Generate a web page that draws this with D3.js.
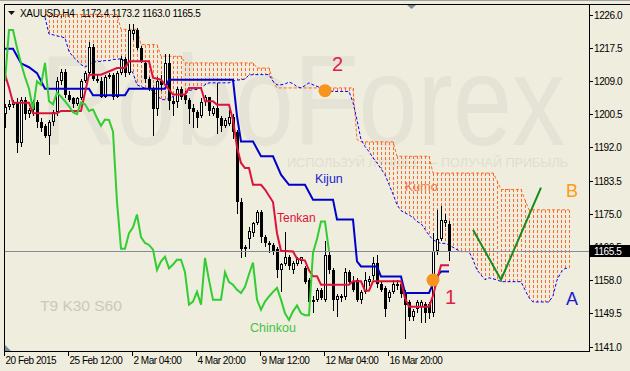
<!DOCTYPE html>
<html><head><meta charset="utf-8">
<script src="https://cdn.jsdelivr.net/npm/d3@7"></script>
<style>html,body{margin:0;padding:0;background:#efeddd;} svg{display:block;}</style>
</head><body>
<svg id="c" width="630" height="371"></svg>
<script>
// ---------- DATA ----------
const symbol = "XAUUSD,H4";
const titleValues = "1172.4 1173.2 1163.0 1165.5";
const dateLabels = ["20 Feb 2015","25 Feb 12:00","2 Mar 04:00","4 Mar 20:00","9 Mar 12:00","12 Mar 04:00","16 Mar 20:00"];
const dateLabelBars = [0,16,32,48,64,80,96];
const priceTicks = [1141.0,1149.5,1158.0,1166.5,1175.0,1183.5,1192.0,1200.5,1209.0,1217.5,1226.0];
const lastPrice = 1165.5;

const opens = [1200.5,1202.2,1202.8,1203.6,1193.2,1204,1200.5,1201.5,1203.5,1198.5,
1197.5,1195,1198.5,1201,1209,1211.3,1205.5,1204.5,1203,1204.5,
1209,1211,1217.8,1209.5,1209,1205,1210,1210.5,1205,1211,
1214.5,1211,1221,1222,1217.5,1213.5,1209.5,1207,1201.7,1209,
1208,1213.6,1203.8,1203.5,1207,1205.5,1204.2,1202,1201,1200,
1203.5,1204.8,1200.5,1202,1199.5,1197.5,1198,1199.8,1196,1178,
1166,1168.5,1170,1172.5,1175.5,1169,1167.5,1167,1166,1160.5,
1162,1164,1160.5,1162,1163,1161,1158,1152.5,1153,1155.5,
1153,1164.5,1160.5,1153,1153.5,1153.8,1160,1157.5,1158,1153,
1155,1157.5,1159,1162.5,1157,1156,1153.5,1155,1157,1157,
1155,1152.5,1148.5,1150.5,1151,1152,1152,1149.5,1165.5,1168.5,
1172.5,1172.4];
const highs = [1203,1204,1204,1204.7,1205,1205,1202,1204,1204,1199.5,
1198,1199,1201.5,1210,1212,1212,1206.5,1205,1205,1209.5,
1211.5,1219,1218.5,1210.5,1210,1210.5,1211,1211,1211.5,1215.5,
1215,1223.5,1223.5,1222.5,1218,1214,1210,1207.5,1210,1210.5,
1216,1216,1205,1207.5,1207.5,1206.5,1204.5,1203,1201.5,1204.5,
1205.5,1205,1202.5,1208.5,1200,1199.5,1201.5,1200.5,1196.5,1179,
1167,1171.5,1173,1176,1176,1169.5,1168,1167.5,1166.5,1162.5,
1170.4,1164.5,1163,1164,1164,1161.5,1158.5,1154,1156,1156,
1168,1165.5,1161,1154.5,1154.5,1161,1160.5,1159,1158.5,1155.5,
1160,1159,1164,1164.5,1157.5,1156.5,1155.5,1158,1158,1157.5,
1155.5,1153,1150.5,1153,1153,1152.5,1152.5,1170,1176,1177,
1175,1173.2];
const lows = [1197,1201.5,1202,1190.6,1192,1199,1199.5,1200,1197,1196,
1194.5,1190,1197.5,1200,1208,1204.5,1203.5,1202,1202.5,1204,
1208.5,1210.5,1209,1208.5,1204.5,1204.5,1209.5,1204,1204.5,1210.5,
1210,1210.5,1219.5,1217,1213.5,1208.5,1206.5,1195,1200,1206.5,
1207,1201.5,1200,1202,1204,1203,1198,1197,1197,1199.5,
1202.5,1200,1200,1195.5,1196,1197,1197.5,1194,1175,1163.7,
1164,1166,1169,1172,1167.5,1166.5,1165,1164.5,1158.5,1155,
1161.5,1160.5,1159.5,1161.5,1162,1157,1151,1149.6,1152.5,1153,
1152.5,1159.5,1150,1148.5,1152.5,1153,1157,1155,1152.5,1152,
1154.5,1156.5,1158,1156,1155,1148.5,1152.5,1154.5,1155.5,1153.5,
1143,1147.5,1147.5,1149.5,1147,1147,1148,1148.5,1164.5,1168,
1171.5,1163.0];
const closes = [1202.2,1203,1203.6,1193.2,1204,1200.5,1201.5,1203.5,1198.5,1197,
1195,1198.5,1201,1209,1211.3,1205.5,1204,1203,1204.5,1209,
1211,1217.8,1209.5,1209,1205,1210,1210.5,1205,1211,1214.5,
1211,1222,1222,1217.5,1214,1209.5,1207,1201.7,1209,1208,
1213.6,1203.8,1203,1207,1205,1204,1201.7,1201,1199.5,1203.5,
1204.8,1201.3,1202,1199.5,1197.5,1199.1,1199.8,1196,1178,1166,
1166.5,1170.5,1172.5,1175.5,1169,1167.5,1167,1165.5,1160.5,1162,
1164,1161.5,1162.5,1163.5,1163.8,1157.5,1152.5,1153,1155.5,1153.5,
1164.5,1160.5,1153,1154,1154,1160,1157.5,1155.5,1153,1155,
1158,1158.2,1162.5,1157,1155.5,1150.5,1155,1157,1156.5,1154.5,
1151.5,1148.5,1150,1152.5,1152.5,1149.5,1149.5,1165.5,1168.5,1173.5,
1173.5,1165.5];

// Tenkan-sen (bar index, price)
const tenkan = [[0,1210.6],[1,1207.3],[2,1203.4],[6,1203.4],[7,1200.7],[13,1200.7],[14,1201.3],[19,1201.3],[20,1206],[21,1210.6],[24,1210.6],[28,1212.3],[30,1212.3],[31,1214],[36,1214],[37,1209.8],[39,1209.3],[42,1205.5],[45,1205.5],[46,1207.2],[49,1207.2],[50,1203.8],[52,1203.8],[53,1202.9],[56,1202.9],[57,1199],[58,1192],[59,1188],[60,1186.7],[61,1186.7],[62,1182.4],[64,1182.4],[65,1181.2],[67,1178],[68,1170],[69,1165.5],[72,1165.3],[73,1163.5],[75,1163],[76,1160.5],[77,1159],[78,1159],[79,1156.8],[86,1156.8],[87,1157.7],[89,1157.7],[90,1155.3],[91,1155.3],[92,1157.7],[99,1157.7],[100,1153.4],[101,1151.2],[106,1151.2],[107,1154],[108,1158],[109,1161.8],[111,1161.8]];
// Kijun-sen (bar index, price)
const kijun = [[0,1217.2],[2,1217.2],[4,1213.5],[6,1212.5],[8,1211],[10,1207],[21,1207],[22,1205.3],[30,1205.3],[31,1207],[40,1207],[41,1209.3],[57,1209.3],[58,1200],[59,1193.5],[62,1193.5],[64,1189.7],[67,1189.7],[69,1185],[71,1182.4],[75,1182.4],[77,1178.6],[82,1178.6],[83,1173.5],[87,1173.5],[88,1162.8],[89,1161.5],[93,1161.5],[94,1158.9],[99,1158.9],[100,1154.7],[106,1154.7],[107,1157],[108,1159],[109,1160.2],[111,1160.2]];
// Chikou span, bars 0..81
const chinkou = [1209,1222,1222,1217.5,1213.5,1210,1207,1201.7,1208.9,1208,
1213.6,1203.8,1203,1206,1205,1203.8,1202.5,1201,1200.5,1203.5,
1203,1201.3,1201.7,1199.5,1197.5,1199.1,1199,1196,1178,1166,
1166,1170,1171.5,1174.8,1169,1167.5,1167,1165.8,1160.6,1162.8,
1164,1161,1162,1163.2,1163.2,1160,1151.7,1152.5,1155,1151.7,
1163.7,1158,1153,1153,1153,1160,1157.5,1156.8,1155.5,1154.7,
1156.3,1159.5,1162.5,1153,1150.4,1152.5,1153.8,1155,1156,1153,
1149.5,1147.8,1150,1151.5,1149.5,1149,1149,1165,1168.5,1173,
1173,1165.5];
// Senkou spans, bars 10..141
const senkouStart = 10;
const senkouA = [1225.3,1221,1220.8,1220.5,1220.3,1220,1216.5,1215.2,1214.2,1213.2,
1212.5,1213.2,1213.7,1214,1214,1214.2,1214.2,1214.5,1214.5,1214.7,
1214,1212.5,1211,1208,1207.5,1207.2,1207,1206.3,1205.5,1204.2,
1204.2,1204.5,1205,1205.5,1205.5,1205.5,1206.5,1206.8,1206.8,1207.2,
1208,1208.5,1208.5,1208.5,1208.5,1208.5,1208.5,1209,1209.2,1209.3,
1209.5,1210.5,1210.6,1210.6,1210.6,1210.6,1210.6,1208.9,1208,1208,
1208.2,1208.7,1208.3,1207.5,1207.2,1207.8,1208.5,1208,1207.6,1207.2,
1206.8,1206.5,1206.3,1206.3,1206.3,1206.3,1206.3,1203.5,1199,1194,
1192.2,1190.9,1189.3,1188,1186.5,1185,1182.5,1180,1177.3,1175.8,
1175.2,1174.7,1174,1173,1172.5,1171,1169.5,1168.3,1167.8,1167.4,
1167.4,1167,1166.4,1165.8,1165.3,1165.3,1165.3,1163.2,1160.6,1159.3,
1158.1,1158.6,1158.3,1158.1,1157.6,1157.6,1157.6,1157.6,1157.6,1157.6,
1155.5,1153.5,1152.4,1152.4,1152.4,1152.4,1152.4,1154,1158,1160,
1161,1161];
const senkouB = [1226,1226,1226,1226,1226,1226,1226,1226,1226,1226,
1226,1226,1226,1226,1226,1226,1226,1226,1226,1222.2,
1222.2,1222.2,1222.2,1222.2,1218.3,1218.3,1218.3,1218.3,1218.3,1215.3,
1215.3,1215.3,1215.3,1215.3,1215.3,1213.6,1213.6,1213.6,1213.6,1213.6,
1213.6,1213.6,1213.6,1213.6,1213.6,1213.6,1213.6,1213.6,1213.6,1213.6,
1213.6,1213.6,1213.6,1212.3,1212.3,1212.3,1212.3,1209,1207.2,1207.2,
1207.2,1207.2,1207.2,1207.2,1207.2,1207.2,1207.2,1207.2,1207.2,1207.2,
1207.2,1207.2,1207.2,1207.2,1207.2,1207.2,1207.2,1207.2,1194,1193.4,
1193.4,1193.4,1193.4,1193.4,1193.4,1193.4,1193.4,1193.4,1189.7,1189.7,
1189.7,1189.7,1189.7,1189.7,1189.7,1189.7,1189.7,1185.4,1185.4,1185.4,
1185.4,1185.4,1185.4,1185.4,1185.4,1185.4,1185.4,1185.4,1185.4,1185.4,
1185.4,1185.4,1185.4,1183.5,1181.2,1181.2,1181.2,1181.2,1181.2,1181.2,
1178.5,1176,1176,1176,1176,1176,1176,1176,1176,1176,
1176,1176];
// Forecast line (bar index, price)
const forecast = [[117,1170.9],[124,1158.1],[134,1181.7]];
// Signal points
const signalBars = [80,107];
const signalPrices = [1206.5,1158];
const signalLabels = ["2","1"];

// ---------- DRAW ----------
const svg = d3.select("#c");
const W = 630, H = 371;
const font = "'Liberation Sans', Arial, sans-serif";
const x = d3.scaleLinear().domain([0,141]).range([5,569]);
const y = d3.scaleLinear().domain([1141,1226]).range([346.5,14.5]);
const px = i => Math.round(x(i));

svg.append("rect").attr("width",W).attr("height",H).attr("fill","#efeddd");

const defs = svg.append("defs");
defs.append("clipPath").attr("id","plot").append("rect").attr("x",5).attr("y",5).attr("width",584).attr("height",346);

// watermark (background layer)
const wm = svg.append("g");
wm.append("text").attr("x",40).attr("y",145).attr("font-family",font).attr("font-size",128)
  .attr("textLength",525).attr("lengthAdjust","spacingAndGlyphs").attr("fill","#e5e3d5").text("RoboForex");
wm.append("text").attr("x",287).attr("y",167).attr("font-family",font).attr("font-size",13)
  .attr("textLength",281).attr("lengthAdjust","spacingAndGlyphs").attr("fill","#e0decf").text("ИСПОЛЬЗУЙ ЛУЧШЕЕ — ПОЛУЧАЙ ПРИБЫЛЬ");
wm.append("text").attr("x",40).attr("y",311).attr("font-family",font).attr("font-size",15.5)
  .attr("fill","#ccc8ba").text("T9 K30 S60");

const g = svg.append("g").attr("clip-path","url(#plot)");

// cloud hatch
const cloudColor = "#ff6a2a";
const spanIdx = d3.range(senkouA.length);
g.append("g").selectAll("line")
  .data(spanIdx.filter(k => senkouB[k] > senkouA[k])).join("line")
  .attr("x1",k=>px(k+senkouStart)+0.5).attr("x2",k=>px(k+senkouStart)+0.5)
  .attr("y1",k=>Math.round(y(senkouB[k]))).attr("y2",k=>Math.round(y(senkouA[k])))
  .attr("stroke",cloudColor).attr("stroke-width",1).attr("stroke-dasharray","3,2");

const spanLine = arr => d3.line().x((d,k)=>x(k+senkouStart)).y(d=>y(d))(arr);
g.append("path").attr("d",spanLine(senkouB)).attr("fill","none").attr("stroke",cloudColor)
  .attr("stroke-width",1).attr("stroke-dasharray","3,2");
g.append("path").attr("d",spanLine(senkouA)).attr("fill","none").attr("stroke","#0000ff")
  .attr("stroke-width",1).attr("stroke-dasharray","3,2");

// candles
const bars = d3.range(closes.length);
const cg = g.append("g").attr("shape-rendering","crispEdges");
cg.selectAll("line").data(bars).join("line")
  .attr("x1",i=>px(i)+0.5).attr("x2",i=>px(i)+0.5)
  .attr("y1",i=>Math.round(y(highs[i]))).attr("y2",i=>Math.round(y(lows[i])))
  .attr("stroke","#000").attr("stroke-width",1);
cg.selectAll("rect.bear").data(bars.filter(i=>closes[i]<opens[i])).join("rect").attr("class","bear")
  .attr("x",i=>px(i)-1).attr("width",3)
  .attr("y",i=>Math.round(y(opens[i]))).attr("height",i=>Math.max(1,Math.round(y(closes[i]))-Math.round(y(opens[i]))))
  .attr("fill","#000");
cg.selectAll("rect.bull").data(bars.filter(i=>closes[i]>=opens[i])).join("rect").attr("class","bull")
  .attr("x",i=>px(i)-0.5).attr("width",2)
  .attr("y",i=>Math.round(y(closes[i]))+0.5).attr("height",i=>Math.max(0,Math.round(y(opens[i]))-Math.round(y(closes[i]))-1))
  .attr("fill","#fff").attr("stroke","#000").attr("stroke-width",1);

// last price line
g.append("line").attr("x1",5).attr("x2",589).attr("y1",Math.round(y(lastPrice))+0.5).attr("y2",Math.round(y(lastPrice))+0.5)
  .attr("stroke","#838c98").attr("stroke-width",1);

// indicator lines
const ptLine = d3.line().x(d=>x(d[0])).y(d=>y(d[1]));
g.append("path").attr("d",ptLine(kijun)).attr("fill","none").attr("stroke","#0000cd").attr("stroke-width",2);
g.append("path").attr("d",ptLine(tenkan)).attr("fill","none").attr("stroke","#dc143c").attr("stroke-width",2);
g.append("path").attr("d",d3.line().x((d,i)=>x(i)).y(d=>y(d))(chinkou)).attr("fill","none").attr("stroke","#32cd32").attr("stroke-width",2);
g.append("path").attr("d",ptLine(forecast)).attr("fill","none").attr("stroke","#1a8a1a").attr("stroke-width",2);

// signal markers
g.selectAll("circle.sig").data(signalBars).join("circle").attr("class","sig")
  .attr("cx",(d,k)=>x(d)).attr("cy",(d,k)=>y(signalPrices[k])).attr("r",6.5).attr("fill","#f7941d");

// labels
const lab = (t,xx,yy,size,color) => g.append("text").attr("x",xx).attr("y",yy).attr("font-family",font)
  .attr("font-size",size).attr("fill",color).text(t);
lab("Kijun",315,183,12.5,"#2222cc");
lab("Tenkan",277,222,12,"#dc143c");
lab("Chinkou",250,332,12.5,"#44c444");
lab("Kumo",405,191,12.5,"#f47a4a");
lab(signalLabels[0],332,71,20,"#e0204a");
lab(signalLabels[1],445,304,20,"#e0204a");
lab("A",566,305,18,"#1a1acc");
lab("B",566,197,18,"#ff9a1a");

// frame
svg.append("line").attr("x1",0).attr("x2",W).attr("y1",0.5).attr("y2",0.5).attr("stroke","#a0a0a0");
svg.append("line").attr("x1",4).attr("x2",W).attr("y1",4.5).attr("y2",4.5).attr("stroke","#000");
svg.append("line").attr("x1",4.5).attr("x2",4.5).attr("y1",4).attr("y2",352).attr("stroke","#000");
svg.append("line").attr("x1",589.5).attr("x2",589.5).attr("y1",4).attr("y2",352).attr("stroke","#000");
svg.append("line").attr("x1",4).attr("x2",590).attr("y1",351.5).attr("y2",351.5).attr("stroke","#000");

// price axis
const ya = svg.append("g");
priceTicks.forEach(v=>{
  const yy = Math.round(y(v))+0.5;
  ya.append("line").attr("x1",590).attr("x2",593).attr("y1",yy).attr("y2",yy).attr("stroke","#000");
  ya.append("text").attr("x",594).attr("y",yy+3.5).attr("font-family",font).attr("font-size",10)
    .attr("letter-spacing","-0.4px").attr("fill","#000").text(v.toFixed(1));
});
const ly = Math.round(y(lastPrice));
ya.append("rect").attr("x",590).attr("y",ly-6).attr("width",40).attr("height",12).attr("fill","#000");
ya.append("text").attr("x",594).attr("y",ly+4).attr("font-family",font).attr("font-size",10)
  .attr("letter-spacing","-0.4px").attr("fill","#fff").text(lastPrice.toFixed(1));

// date axis
dateLabelBars.forEach((b,k)=>{
  const xx = px(b)-0.5;
  svg.append("line").attr("x1",xx).attr("x2",xx).attr("y1",352).attr("y2",356).attr("stroke","#000");
  svg.append("text").attr("x",xx+1).attr("y",364).attr("font-family",font).attr("font-size",10)
    .attr("letter-spacing","-0.5px").attr("fill","#000").text(dateLabels[k]);
});

// title & markers
svg.append("path").attr("d","M8,11 L15,11 L11.5,15 Z").attr("fill","#111");
svg.append("text").attr("x",20).attr("y",17).attr("font-family",font).attr("font-size",10)
  .attr("letter-spacing","-0.3px").attr("fill","#000").text(symbol);
svg.append("text").attr("x",81).attr("y",17).attr("font-family",font).attr("font-size",10)
  .attr("letter-spacing","-0.3px").attr("fill","#000").text(titleValues);
svg.append("path").attr("d","M407,5 L416,5 L411.5,9 Z").attr("fill","#7d8a9c");
svg.append("path").attr("d","M5,345 L5,351 L11,351 Z").attr("fill","#7d8a9c");
</script>
</body></html>
